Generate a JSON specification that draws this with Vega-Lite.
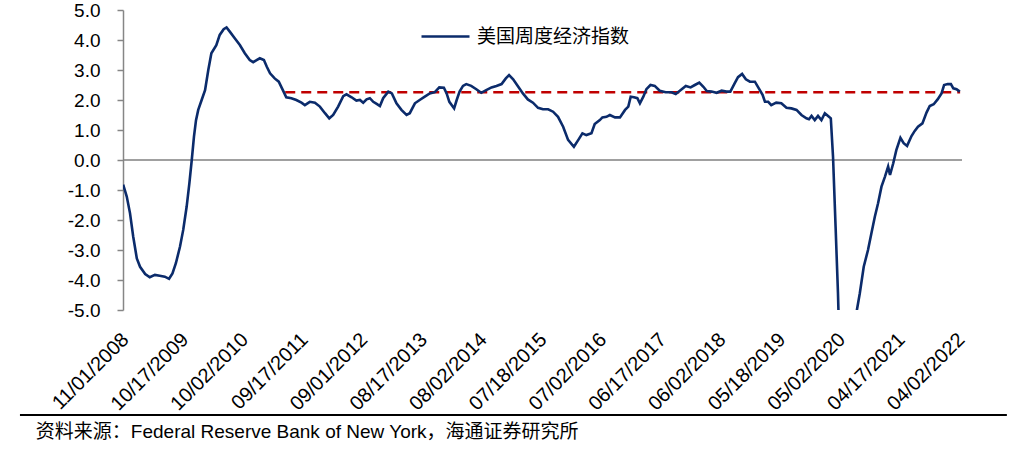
{
  "$schema": "https://vega.github.io/schema/vega-lite/v6.json",
  "width": 839,
  "height": 300,
  "autosize": {"type": "none"},
  "padding": {"left": 123, "top": 10, "right": 52, "bottom": 149},
  "background": "white",
  "config": {"view": {"stroke": null}, "font": "Liberation Sans", "axis": {"labelOverlap": false, "labelFlush": false, "labelBound": false}},
  "datasets": {
    "wei": [
      {"date": "2008-10-15", "value": -0.82}, {"date": "2008-11-05", "value": -1.22}, {"date": "2008-11-24", "value": -1.77}, {"date": "2008-12-13", "value": -2.56},
      {"date": "2009-01-03", "value": -3.28}, {"date": "2009-01-22", "value": -3.56}, {"date": "2009-02-21", "value": -3.80}, {"date": "2009-03-20", "value": -3.91}, {"date": "2009-04-19", "value": -3.83}, {"date": "2009-05-17", "value": -3.86}, {"date": "2009-06-16", "value": -3.89}, {"date": "2009-07-11", "value": -3.96}, {"date": "2009-07-31", "value": -3.78}, {"date": "2009-08-20", "value": -3.44}, {"date": "2009-09-13", "value": -2.89}, {"date": "2009-10-02", "value": -2.33}, {"date": "2009-10-22", "value": -1.56}, {"date": "2009-11-07", "value": -0.78}, {"date": "2009-11-21", "value": 0.0}, {"date": "2009-12-04", "value": 0.78}, {"date": "2009-12-16", "value": 1.33}, {"date": "2009-12-29", "value": 1.67},
      {"date": "2010-01-18", "value": 2.0}, {"date": "2010-02-07", "value": 2.33}, {"date": "2010-02-26", "value": 3.0}, {"date": "2010-03-16", "value": 3.56}, {"date": "2010-04-14", "value": 3.83}, {"date": "2010-05-04", "value": 4.17}, {"date": "2010-05-27", "value": 4.36}, {"date": "2010-06-13", "value": 4.42}, {"date": "2010-07-02", "value": 4.28}, {"date": "2010-07-31", "value": 4.06}, {"date": "2010-08-30", "value": 3.83}, {"date": "2010-09-28", "value": 3.56}, {"date": "2010-10-27", "value": 3.33}, {"date": "2010-11-16", "value": 3.26}, {"date": "2010-12-06", "value": 3.33}, {"date": "2010-12-25", "value": 3.39},
      {"date": "2011-01-18", "value": 3.33}, {"date": "2011-02-04", "value": 3.11}, {"date": "2011-02-23", "value": 2.89}, {"date": "2011-03-22", "value": 2.72}, {"date": "2011-04-15", "value": 2.61}, {"date": "2011-05-09", "value": 2.33}, {"date": "2011-05-29", "value": 2.09}, {"date": "2011-06-28", "value": 2.06}, {"date": "2011-07-27", "value": 2.0}, {"date": "2011-08-26", "value": 1.91}, {"date": "2011-09-15", "value": 1.83}, {"date": "2011-10-14", "value": 1.94}, {"date": "2011-11-13", "value": 1.91}, {"date": "2011-12-12", "value": 1.78},
      {"date": "2012-01-11", "value": 1.56}, {"date": "2012-02-05", "value": 1.39}, {"date": "2012-02-28", "value": 1.5}, {"date": "2012-03-28", "value": 1.78}, {"date": "2012-04-27", "value": 2.13}, {"date": "2012-05-16", "value": 2.19}, {"date": "2012-06-15", "value": 2.09}, {"date": "2012-07-13", "value": 1.98}, {"date": "2012-08-03", "value": 2.0}, {"date": "2012-08-22", "value": 1.91}, {"date": "2012-09-11", "value": 2.02}, {"date": "2012-09-30", "value": 2.06}, {"date": "2012-10-20", "value": 1.94}, {"date": "2012-11-09", "value": 1.87}, {"date": "2012-11-28", "value": 1.80}, {"date": "2012-12-17", "value": 2.06},
      {"date": "2013-01-16", "value": 2.28}, {"date": "2013-02-06", "value": 2.22}, {"date": "2013-03-05", "value": 1.89}, {"date": "2013-04-03", "value": 1.67}, {"date": "2013-05-03", "value": 1.5}, {"date": "2013-05-22", "value": 1.56}, {"date": "2013-06-21", "value": 1.89}, {"date": "2013-07-19", "value": 2.0}, {"date": "2013-08-18", "value": 2.11}, {"date": "2013-09-16", "value": 2.22}, {"date": "2013-10-16", "value": 2.26}, {"date": "2013-11-11", "value": 2.42}, {"date": "2013-12-08", "value": 2.41}, {"date": "2013-12-24", "value": 2.22},
      {"date": "2014-01-09", "value": 1.94}, {"date": "2014-02-06", "value": 1.72}, {"date": "2014-02-21", "value": 2.0}, {"date": "2014-03-10", "value": 2.28}, {"date": "2014-03-30", "value": 2.47}, {"date": "2014-04-18", "value": 2.53}, {"date": "2014-05-17", "value": 2.47}, {"date": "2014-06-16", "value": 2.36}, {"date": "2014-07-15", "value": 2.24}, {"date": "2014-08-13", "value": 2.33}, {"date": "2014-09-13", "value": 2.42}, {"date": "2014-10-12", "value": 2.47}, {"date": "2014-11-11", "value": 2.53}, {"date": "2014-12-06", "value": 2.72}, {"date": "2014-12-25", "value": 2.83},
      {"date": "2015-01-18", "value": 2.69}, {"date": "2015-02-17", "value": 2.44}, {"date": "2015-03-16", "value": 2.22}, {"date": "2015-04-14", "value": 2.02}, {"date": "2015-05-14", "value": 1.91}, {"date": "2015-06-13", "value": 1.74}, {"date": "2015-07-12", "value": 1.69}, {"date": "2015-08-11", "value": 1.69}, {"date": "2015-09-09", "value": 1.61}, {"date": "2015-10-08", "value": 1.44}, {"date": "2015-11-07", "value": 1.11}, {"date": "2015-12-06", "value": 0.67},
      {"date": "2016-01-09", "value": 0.44}, {"date": "2016-02-04", "value": 0.67}, {"date": "2016-02-28", "value": 0.89}, {"date": "2016-03-22", "value": 0.83}, {"date": "2016-04-21", "value": 0.89}, {"date": "2016-05-10", "value": 1.2}, {"date": "2016-06-09", "value": 1.33}, {"date": "2016-06-24", "value": 1.42}, {"date": "2016-07-18", "value": 1.44}, {"date": "2016-08-07", "value": 1.5}, {"date": "2016-09-06", "value": 1.42}, {"date": "2016-10-05", "value": 1.42}, {"date": "2016-11-04", "value": 1.67}, {"date": "2016-11-23", "value": 1.78}, {"date": "2016-12-07", "value": 2.11}, {"date": "2016-12-26", "value": 2.09},
      {"date": "2017-01-15", "value": 2.06}, {"date": "2017-01-30", "value": 1.89}, {"date": "2017-02-19", "value": 2.11}, {"date": "2017-03-09", "value": 2.36}, {"date": "2017-04-02", "value": 2.5}, {"date": "2017-04-27", "value": 2.47}, {"date": "2017-05-26", "value": 2.31}, {"date": "2017-06-30", "value": 2.26}, {"date": "2017-08-03", "value": 2.26}, {"date": "2017-08-28", "value": 2.2}, {"date": "2017-09-21", "value": 2.31}, {"date": "2017-10-26", "value": 2.47}, {"date": "2017-11-23", "value": 2.42}, {"date": "2017-12-18", "value": 2.5},
      {"date": "2018-01-13", "value": 2.58}, {"date": "2018-02-06", "value": 2.44}, {"date": "2018-02-26", "value": 2.3}, {"date": "2018-03-26", "value": 2.28}, {"date": "2018-04-25", "value": 2.24}, {"date": "2018-05-24", "value": 2.31}, {"date": "2018-06-21", "value": 2.28}, {"date": "2018-07-14", "value": 2.28}, {"date": "2018-08-09", "value": 2.56}, {"date": "2018-08-28", "value": 2.76}, {"date": "2018-09-21", "value": 2.87}, {"date": "2018-10-13", "value": 2.69}, {"date": "2018-11-06", "value": 2.61}, {"date": "2018-12-05", "value": 2.61}, {"date": "2018-12-28", "value": 2.39},
      {"date": "2019-01-19", "value": 2.17}, {"date": "2019-02-02", "value": 1.94}, {"date": "2019-02-21", "value": 1.94}, {"date": "2019-03-11", "value": 1.83}, {"date": "2019-04-09", "value": 1.91}, {"date": "2019-05-09", "value": 1.89}, {"date": "2019-06-08", "value": 1.74}, {"date": "2019-07-07", "value": 1.72}, {"date": "2019-08-06", "value": 1.67}, {"date": "2019-09-04", "value": 1.5}, {"date": "2019-10-03", "value": 1.39}, {"date": "2019-10-18", "value": 1.36}, {"date": "2019-11-02", "value": 1.47}, {"date": "2019-11-21", "value": 1.33}, {"date": "2019-12-10", "value": 1.47}, {"date": "2019-12-30", "value": 1.33},
      {"date": "2020-01-19", "value": 1.56}, {"date": "2020-02-07", "value": 1.47}, {"date": "2020-02-23", "value": 1.39}, {"date": "2020-03-07", "value": 0.11}, {"date": "2020-03-22", "value": -2.22}, {"date": "2020-04-05", "value": -4.44}, {"date": "2020-05-08", "value": -11.2}, {"date": "2020-06-19", "value": -8.3}, {"date": "2020-07-25", "value": -5.0}, {"date": "2020-08-11", "value": -4.44}, {"date": "2020-09-03", "value": -3.56}, {"date": "2020-09-28", "value": -3.0}, {"date": "2020-10-18", "value": -2.44}, {"date": "2020-11-07", "value": -1.89}, {"date": "2020-11-26", "value": -1.44}, {"date": "2020-12-16", "value": -0.89},
      {"date": "2021-01-05", "value": -0.56}, {"date": "2021-01-24", "value": -0.22}, {"date": "2021-02-04", "value": -0.5}, {"date": "2021-02-23", "value": -0.11}, {"date": "2021-03-13", "value": 0.33}, {"date": "2021-04-06", "value": 0.74}, {"date": "2021-04-25", "value": 0.56}, {"date": "2021-05-15", "value": 0.47}, {"date": "2021-06-10", "value": 0.8}, {"date": "2021-06-29", "value": 0.97}, {"date": "2021-07-18", "value": 1.11}, {"date": "2021-08-13", "value": 1.22}, {"date": "2021-09-06", "value": 1.58}, {"date": "2021-09-25", "value": 1.8}, {"date": "2021-10-18", "value": 1.86}, {"date": "2021-11-10", "value": 2.02}, {"date": "2021-12-03", "value": 2.22}, {"date": "2021-12-18", "value": 2.5},
      {"date": "2022-01-08", "value": 2.53}, {"date": "2022-01-27", "value": 2.53}, {"date": "2022-02-10", "value": 2.39}, {"date": "2022-03-01", "value": 2.36}, {"date": "2022-03-20", "value": 2.28}
    ],
    "avg": [{"start": "2011-05-23", "end": "2022-03-22", "value": 2.26}],
    "one": [{}]
  },
  "layer": [
    {
      "data": {"name": "one"},
      "mark": {"type": "rule", "color": "#808080", "strokeWidth": 1.5},
      "encoding": {
        "y": {
          "datum": 0, "type": "quantitative", "scale": {"domain": [-5, 5]},
          "axis": {
            "values": [-5, -4, -3, -2, -1, 0, 1, 2, 3, 4, 5],
            "tickCount": 11,
            "format": ".1f",
            "labelExpr": "replace(datum.label, '\u2212', '-')",
            "labelFont": "Liberation Sans",
            "labelFontSize": 19,
            "labelColor": "#000000",
            "labelPadding": 17,
            "labelOverlap": false,
            "domainColor": "#868686",
            "domainWidth": 1.5,
            "tickColor": "#868686",
            "tickWidth": 1.5,
            "tickSize": 6,
            "grid": false,
            "title": null
          }
        }
      }
    },
    {
      "data": {"name": "avg"},
      "mark": {"type": "rule", "color": "#C00000", "strokeWidth": 2.5, "strokeDash": [10, 6]},
      "encoding": {
        "x": {"field": "start", "type": "temporal", "scale": {"type": "utc", "domain": [{"year": 2008, "month": 10, "date": 14, "utc": true}, {"year": 2022, "month": 4, "date": 2, "utc": true}]}},
        "x2": {"field": "end"},
        "y": {"field": "value", "type": "quantitative", "scale": {"domain": [-5, 5]}}
      }
    },
    {
      "data": {"name": "wei"},
      "mark": {"type": "line", "clip": true, "strokeWidth": 2.6},
      "encoding": {
        "x": {
          "field": "date", "type": "temporal",
          "scale": {"type": "utc", "domain": [{"year": 2008, "month": 10, "date": 14, "utc": true}, {"year": 2022, "month": 4, "date": 2, "utc": true}]},
          "axis": {
            "values": [
              {"year": 2008, "month": 11, "date": 1, "utc": true}, {"year": 2009, "month": 10, "date": 17, "utc": true}, {"year": 2010, "month": 10, "date": 2, "utc": true}, {"year": 2011, "month": 9, "date": 17, "utc": true}, {"year": 2012, "month": 9, "date": 1, "utc": true}, {"year": 2013, "month": 8, "date": 17, "utc": true}, {"year": 2014, "month": 8, "date": 2, "utc": true}, {"year": 2015, "month": 7, "date": 18, "utc": true}, {"year": 2016, "month": 7, "date": 2, "utc": true}, {"year": 2017, "month": 6, "date": 17, "utc": true}, {"year": 2018, "month": 6, "date": 2, "utc": true}, {"year": 2019, "month": 5, "date": 18, "utc": true}, {"year": 2020, "month": 5, "date": 2, "utc": true}, {"year": 2021, "month": 4, "date": 17, "utc": true}, {"year": 2022, "month": 4, "date": 2, "utc": true}
            ],
            "format": "%m/%d/%Y",
            "labelAngle": -45,
            "labelFont": "Liberation Sans",
            "labelFontSize": 20,
            "labelColor": "#000000",
            "labelPadding": 19,
            "labelOffset": -8,
            "labelOverlap": false,
            "domain": false,
            "ticks": false,
            "grid": false,
            "title": null
          }
        },
        "y": {
          "field": "value", "type": "quantitative",
          "scale": {"domain": [-5, 5]},
          "axis": {
            "values": [-5, -4, -3, -2, -1, 0, 1, 2, 3, 4, 5],
            "tickCount": 11,
            "format": ".1f",
            "labelExpr": "replace(datum.label, '\u2212', '-')",
            "labelFont": "Liberation Sans",
            "labelFontSize": 19,
            "labelColor": "#000000",
            "labelPadding": 17,
            "labelOverlap": false,
            "domainColor": "#868686",
            "domainWidth": 1.5,
            "tickColor": "#868686",
            "tickWidth": 1.5,
            "tickSize": 6,
            "grid": false,
            "title": null
          }
        },
        "color": {
          "datum": "美国周度经济指数", "type": "nominal",
          "scale": {"range": ["#0B2B6B"]},
          "legend": {
            "orient": "none", "legendX": 297, "legendY": 1, "title": null,
            "symbolType": "stroke", "symbolSize": 2304, "symbolStrokeWidth": 2.5,
            "labelFont": "Noto Sans CJK SC", "labelFontSize": 19, "labelColor": "#000000",
            "labelOffset": 6, "padding": 0
          }
        }
      }
    },
    {
      "data": {"name": "one"},
      "mark": {"type": "rule", "color": "#000000", "strokeWidth": 2},
      "encoding": {
        "x": {"datum": {"year": 2007, "month": 2, "date": 18, "utc": true}, "type": "temporal"},
        "x2": {"datum": {"year": 2022, "month": 12, "date": 21, "utc": true}},
        "y": {"datum": -8.5, "type": "quantitative"}
      }
    },
    {
      "data": {"name": "one"},
      "mark": {"type": "text", "align": "left", "baseline": "alphabetic", "font": "Liberation Sans, Noto Sans CJK SC", "fontSize": 19, "color": "#000000"},
      "encoding": {
        "x": {"datum": {"year": 2007, "month": 5, "date": 22, "utc": true}, "type": "temporal"},
        "y": {"datum": -9.27, "type": "quantitative"},
        "text": {"value": "资料来源：Federal Reserve Bank of New York，海通证券研究所"}
      }
    }
  ]
}
